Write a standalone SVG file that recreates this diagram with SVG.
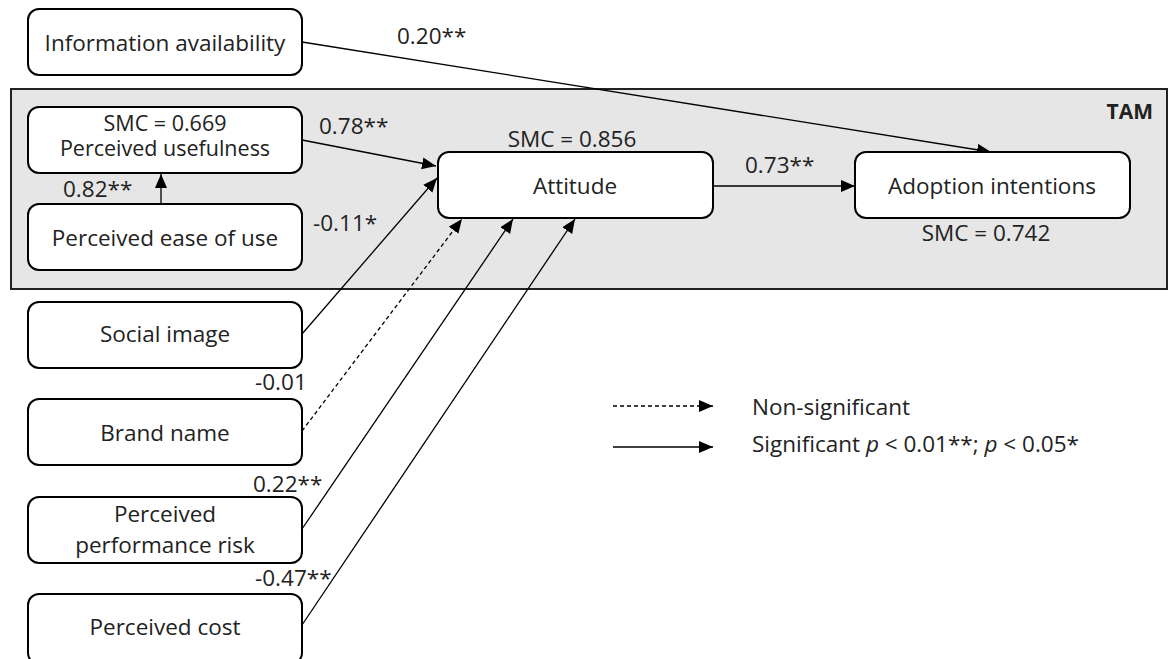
<svg xmlns="http://www.w3.org/2000/svg" width="1169" height="659" viewBox="0 0 1169 659">
<style>
.box{fill:#fff;stroke:#000;stroke-width:2}
.t{font-family:"Open Sans","Noto Sans",sans-serif;font-size:22.5px;fill:#222}
.c{text-anchor:middle}
.ln{stroke:#000;stroke-width:1.3;fill:none}
.dash{stroke-dasharray:4,3}
</style>
<defs>
<marker id="ah" markerUnits="userSpaceOnUse" markerWidth="16" markerHeight="14" refX="14" refY="6" orient="auto">
<path d="M0,0 L14,6 L0,12 z" fill="#000"/>
</marker>
</defs>
<rect width="1169" height="659" fill="#fff"/>
<g id="tam">
<rect x="11" y="89" width="1156" height="200" fill="#e6e6e6" stroke="#222" stroke-width="2"/>
<text x="1153" y="119" class="t" text-anchor="end" style="font-weight:bold;font-size:21px">TAM</text>
</g>
<g id="connectors">
<line class="ln" x1="302" y1="42" x2="991" y2="152" marker-end="url(#ah)"/>
<line class="ln" x1="302" y1="140" x2="436" y2="166" marker-end="url(#ah)"/>
<line class="ln" x1="161" y1="204" x2="161" y2="174" marker-end="url(#ah)"/>
<line class="ln" x1="302" y1="334" x2="437" y2="178" marker-end="url(#ah)"/>
<line class="ln dash" x1="302" y1="431" x2="462" y2="219" marker-end="url(#ah)"/>
<line class="ln" x1="302" y1="529" x2="513" y2="219" marker-end="url(#ah)"/>
<line class="ln" x1="302" y1="625" x2="575" y2="219" marker-end="url(#ah)"/>
<line class="ln" x1="713" y1="186" x2="855" y2="186" marker-end="url(#ah)"/>
<text x="397" y="44" class="t">0.20**</text>
<text x="319" y="134" class="t">0.78**</text>
<text x="63" y="197" class="t">0.82**</text>
<text x="313" y="231" class="t">-0.11*</text>
<text x="745" y="173" class="t">0.73**</text>
<text x="255" y="390" class="t">-0.01</text>
<text x="253" y="492" class="t">0.22**</text>
<text x="255" y="586" class="t">-0.47**</text>
</g>
<g id="info">
<rect class="box" x="28" y="9" width="274" height="66" rx="11"/>
<text x="165" y="51" class="t c">Information availability</text>
</g>
<g id="usefulness">
<rect class="box" x="28" y="107" width="274" height="66" rx="11"/>
<text x="165" y="131" class="t c" style="font-size:21.5px">SMC = 0.669</text>
<text x="165" y="156" class="t c" style="font-size:21.5px">Perceived usefulness</text>
</g>
<g id="ease">
<rect class="box" x="28" y="204" width="274" height="66" rx="11"/>
<text x="165" y="246" class="t c">Perceived ease of use</text>
</g>
<g id="attitude">
<rect class="box" x="438" y="152" width="275" height="66" rx="11"/>
<text x="575" y="194" class="t c">Attitude</text>
<text x="572" y="147" class="t c">SMC = 0.856</text>
</g>
<g id="adoption">
<rect class="box" x="855" y="152" width="275" height="66" rx="11"/>
<text x="992" y="194" class="t c">Adoption intentions</text>
<text x="986" y="241" class="t c">SMC = 0.742</text>
</g>
<g id="social">
<rect class="box" x="28" y="302" width="274" height="66" rx="11"/>
<text x="165" y="342" class="t c">Social image</text>
</g>
<g id="brand">
<rect class="box" x="28" y="399" width="274" height="66" rx="11"/>
<text x="165" y="441" class="t c">Brand name</text>
</g>
<g id="risk">
<rect class="box" x="28" y="497" width="274" height="66" rx="11"/>
<text x="165" y="522" class="t c">Perceived</text>
<text x="165" y="553" class="t c">performance risk</text>
</g>
<g id="cost">
<rect class="box" x="28" y="594" width="274" height="70" rx="11"/>
<text x="165" y="635" class="t c">Perceived cost</text>
</g>
<g id="legend">
<line class="ln dash" x1="613" y1="406" x2="713" y2="406" marker-end="url(#ah)"/>
<line class="ln" x1="613" y1="447" x2="713" y2="447" marker-end="url(#ah)"/>
<text x="752" y="415" class="t">Non-significant</text>
<text x="752" y="452" class="t">Significant <tspan font-style="italic">p</tspan> &lt; 0.01**; <tspan font-style="italic">p</tspan> &lt; 0.05*</text>
</g>
</svg>
